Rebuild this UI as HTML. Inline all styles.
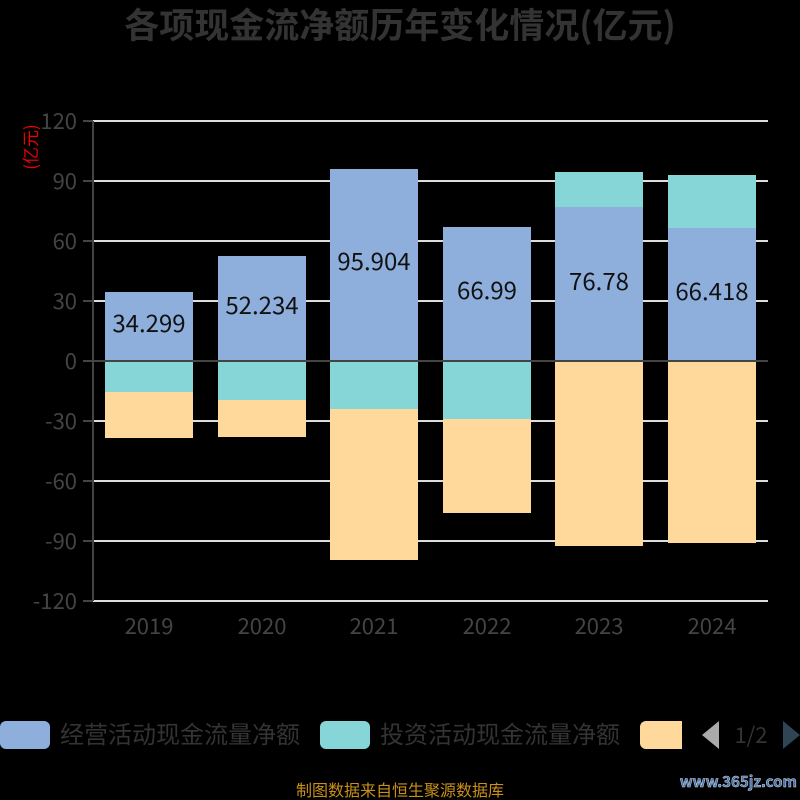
<!DOCTYPE html><html><head><meta charset="utf-8"><style>body{margin:0;background:#000}svg{display:block}text{font-family:"Noto Sans CJK SC","Liberation Sans",sans-serif}</style></head><body>
<svg width="800" height="800" viewBox="0 0 800 800">
<rect width="800" height="800" fill="#000"/>
<text x="400" y="38" text-anchor="middle" font-size="35" font-weight="bold" fill="#333">各项现金流净额历年变化情况(亿元)</text>
<g stroke="#ddd" stroke-width="2">
<line x1="93" x2="768" y1="121" y2="121"/><line x1="93" x2="768" y1="181" y2="181"/><line x1="93" x2="768" y1="241" y2="241"/><line x1="93" x2="768" y1="301" y2="301"/><line x1="93" x2="768" y1="421" y2="421"/><line x1="93" x2="768" y1="481" y2="481"/><line x1="93" x2="768" y1="541" y2="541"/><line x1="93" x2="768" y1="601" y2="601"/>
</g>
<g stroke="#444" stroke-width="2">
<line x1="93" x2="93" y1="121" y2="601"/>
<line x1="83" x2="93" y1="121" y2="121"/><line x1="83" x2="93" y1="181" y2="181"/><line x1="83" x2="93" y1="241" y2="241"/><line x1="83" x2="93" y1="301" y2="301"/><line x1="83" x2="93" y1="361" y2="361"/><line x1="83" x2="93" y1="421" y2="421"/><line x1="83" x2="93" y1="481" y2="481"/><line x1="83" x2="93" y1="541" y2="541"/><line x1="83" x2="93" y1="601" y2="601"/>
</g>
<g font-size="22" fill="#444" text-anchor="end">
<text x="77" y="129">120</text><text x="77" y="189">90</text><text x="77" y="249">60</text><text x="77" y="309">30</text><text x="77" y="369">0</text><text x="77" y="429">-30</text><text x="77" y="489">-60</text><text x="77" y="549">-90</text><text x="77" y="609">-120</text>
</g>
<text transform="translate(37,147) rotate(-90)" text-anchor="middle" font-size="17" fill="#e00">(亿元)</text>
<g>
<rect x="105" y="292" width="88" height="69" fill="#8eafdc"/><rect x="105" y="361" width="88" height="31" fill="#86d6d8"/><rect x="105" y="392" width="88" height="46" fill="#fed99b"/>
<rect x="218" y="256" width="88" height="105" fill="#8eafdc"/><rect x="218" y="361" width="88" height="39" fill="#86d6d8"/><rect x="218" y="400" width="88" height="37" fill="#fed99b"/>
<rect x="330" y="169" width="88" height="192" fill="#8eafdc"/><rect x="330" y="361" width="88" height="48" fill="#86d6d8"/><rect x="330" y="409" width="88" height="151" fill="#fed99b"/>
<rect x="443" y="227" width="88" height="134" fill="#8eafdc"/><rect x="443" y="361" width="88" height="58" fill="#86d6d8"/><rect x="443" y="419" width="88" height="94" fill="#fed99b"/>
<rect x="555" y="172" width="88" height="35" fill="#86d6d8"/><rect x="555" y="207" width="88" height="154" fill="#8eafdc"/><rect x="555" y="361" width="88" height="185" fill="#fed99b"/>
<rect x="668" y="175" width="88" height="53" fill="#86d6d8"/><rect x="668" y="228" width="88" height="133" fill="#8eafdc"/><rect x="668" y="361" width="88" height="182" fill="#fed99b"/>
</g>
<line x1="93" x2="768" y1="361" y2="361" stroke="#444" stroke-width="2"/>
<g font-size="24" fill="#111" text-anchor="middle">
<text x="149" y="332">34.299</text><text x="262" y="314">52.234</text><text x="374" y="270">95.904</text><text x="487" y="299">66.99</text><text x="599" y="290">76.78</text><text x="712" y="300">66.418</text>
</g>
<g font-size="22" fill="#444" text-anchor="middle">
<text x="149" y="634">2019</text><text x="262" y="634">2020</text><text x="374" y="634">2021</text><text x="487" y="634">2022</text><text x="599" y="634">2023</text><text x="712" y="634">2024</text>
</g>
<rect x="0" y="721" width="50" height="28" rx="6" fill="#8eafdc"/>
<text x="60" y="743" font-size="24" fill="#333">经营活动现金流量净额</text>
<rect x="320" y="721" width="50" height="28" rx="6" fill="#86d6d8"/>
<text x="380" y="743" font-size="24" fill="#333">投资活动现金流量净额</text>
<rect x="640" y="721" width="50" height="28" rx="6" fill="#fed99b"/>
<rect x="682" y="715" width="14" height="40" fill="#000"/>
<polygon points="702,735 719,721 719,749" fill="#aaa"/>
<text x="751" y="743" font-size="22" fill="#333" text-anchor="middle">1/2</text>
<polygon points="783,721 800,735 783,749" fill="#2f4554"/>
<text x="400" y="796" font-size="16" fill="#c8901a" text-anchor="middle">制图数据来自恒生聚源数据库</text>
<text x="797" y="787" font-size="15" font-weight="bold" fill="#4a6fa8" stroke="#cde" stroke-width="0.5" text-anchor="end" font-family="Liberation Sans">www.365jz.com</text>
</svg>
</body></html>
